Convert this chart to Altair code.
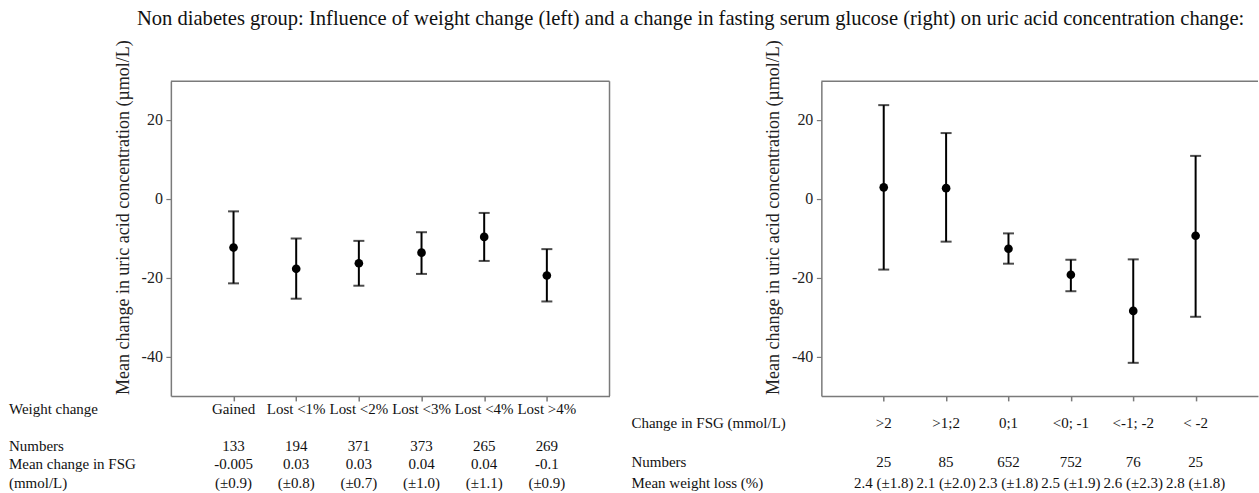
import altair as alt
import pandas as pd

# ---------------- data ----------------
title_text = ("Non diabetes group: Influence of weight change (left) and a change in "
              "fasting serum glucose (right) on uric acid concentration change:")
y_title = "Mean change in uric acid concentration (\u00b5mol/L)"

weight_cats = ["Gained", "Lost <1%", "Lost <2%", "Lost <3%", "Lost <4%", "Lost >4%"]
left_mean = [-12.3, -17.7, -16.3, -13.6, -9.6, -19.4]
left_lo = [-21.4, -25.3, -22.0, -19.0, -15.7, -26.0]
left_hi = [-3.1, -10.0, -10.6, -8.4, -3.5, -12.7]
left_n = ["133", "194", "371", "373", "265", "269"]
left_fsg = ["-0.005", "0.03", "0.03", "0.04", "0.04", "-0.1"]
left_fsg_sd = ["(\u00b10.9)", "(\u00b10.8)", "(\u00b10.7)", "(\u00b11.0)", "(\u00b11.1)", "(\u00b10.9)"]
left_row_labels = ["Weight change", "Numbers", "Mean change in FSG", "(mmol/L)"]

fsg_cats = [">2", ">1;2", "0;1", "<0; -1", "<-1; -2", "< -2"]
right_mean = [3.0, 2.8, -12.6, -19.2, -28.4, -9.3]
right_lo = [-17.9, -10.8, -16.4, -23.4, -41.6, -29.9]
right_hi = [23.9, 16.8, -8.7, -15.4, -15.3, 11.0]
right_n = ["25", "85", "652", "752", "76", "25"]
right_wl = ["2.4 (\u00b11.8)", "2.1 (\u00b12.0)", "2.3 (\u00b11.8)", "2.5 (\u00b11.9)",
            "2.6 (\u00b12.3)", "2.8 (\u00b11.8)"]
right_row_labels = ["Change in FSG (mmol/L)", "Numbers", "Mean weight loss (%)"]

y_domain = [-50, 30]
y_ticks = [-40, -20, 0, 20]
y_tick_labels = ["-40", "-20", "0", "20"]

# ---------------- style ----------------
FONT = "Liberation Serif"
FRAME = "#7a7a7a"
H = 315
LW = 439
RW = 437


def panel(cats, mean, lo, hi, width, text_cols, row_labels, label_x, title=None):
    df = pd.DataFrame({"cat": cats, "mean": mean, "lo": lo, "hi": hi})
    for name, vals, _ in text_cols:
        df[name] = vals
    x_enc = alt.X("cat:N", sort=cats,
                  scale=alt.Scale(type="point", padding=1),
                  axis=alt.Axis(labels=False, title=None, grid=False, tickSize=5,
                                tickColor=FRAME, tickWidth=1.5,
                                domainColor=FRAME, domainWidth=1.5))
    y_axis = alt.Axis(values=y_ticks, grid=False, title=None, labels=False, tickSize=5,
                      tickColor=FRAME, tickWidth=1.2, domainColor=FRAME, domainWidth=1.5)
    yscale = alt.Scale(domain=y_domain, nice=False, zero=False)
    base = alt.Chart(df)
    rules = base.mark_rule(color="black", strokeWidth=2).encode(
        x=x_enc, y=alt.Y("lo:Q", scale=yscale, axis=y_axis), y2="hi:Q")
    cap_lo = base.mark_tick(color="black", thickness=2, size=11).encode(
        x=x_enc, y=alt.Y("lo:Q", scale=yscale, axis=y_axis))
    cap_hi = base.mark_tick(color="black", thickness=2, size=11).encode(
        x=x_enc, y=alt.Y("hi:Q", scale=yscale, axis=y_axis))
    pts = base.mark_point(filled=True, color="black", opacity=1, size=75).encode(
        x=x_enc, y=alt.Y("mean:Q", scale=yscale, axis=y_axis))
    layers = [rules, cap_lo, cap_hi, pts]
    tick_df = pd.DataFrame({"v": y_ticks, "lab": y_tick_labels})
    layers.append(alt.Chart(tick_df).mark_text(
        font=FONT, fontSize=16, color="#222222", align="right", baseline="middle").encode(
        x=alt.value(-8), y=alt.Y("v:Q", scale=yscale, axis=y_axis), text="lab:N"))
    layers.append(alt.Chart(pd.DataFrame({"label": [y_title]})).mark_text(
        font=FONT, fontSize=18, color="#222222", align="left", baseline="middle",
        angle=270).encode(x=alt.value(-47), y=alt.value(H - 1), text="label:N"))
    for name, vals, ypos in text_cols:
        layers.append(base.mark_text(font=FONT, fontSize=15, color="#111111",
                                     baseline="middle", align="center").encode(
            x=x_enc, y=alt.value(ypos), text=f"{name}:N"))
    one = pd.DataFrame({"k": [0]})
    for lab, ypos in row_labels:
        layers.append(alt.Chart(pd.DataFrame({"label": [lab]})).mark_text(
            font=FONT, fontSize=15, color="#111111", baseline="middle", align="left").encode(
            x=alt.value(label_x), y=alt.value(ypos), text="label:N"))
    layers.append(alt.Chart(one).mark_rule(color=FRAME, strokeWidth=1.5).encode(
        x=alt.value(0), x2=alt.value(width), y=alt.value(0)))
    if title is not None:
        layers.append(alt.Chart(one).mark_rule(color=FRAME, strokeWidth=1.5).encode(
            x=alt.value(width), y=alt.value(0), y2=alt.value(H)))
        layers.append(alt.Chart(pd.DataFrame({"label": [title]})).mark_text(
            font=FONT, fontSize=20.6, color="#111111", baseline="middle", align="left").encode(
            x=alt.value(-34), y=alt.value(-62), text="label:N"))
    return alt.layer(*layers).properties(width=width, height=H)


left = panel(
    weight_cats, left_mean, left_lo, left_hi, LW,
    [("catlabel", weight_cats, 328), ("n", left_n, 365),
     ("fsg", left_fsg, 383), ("fsgsd", left_fsg_sd, 402)],
    list(zip(left_row_labels, [328, 365, 383, 402])), -162, title=title_text)

right = panel(
    fsg_cats, right_mean, right_lo, right_hi, RW,
    [("catlabel", fsg_cats, 342), ("n", right_n, 381), ("wl", right_wl, 402)],
    list(zip(right_row_labels, [342, 381, 402])), -190)

chart = alt.hconcat(left, right, spacing=212, bounds="flush").properties(
    padding={"left": 9, "top": 9, "right": 0, "bottom": 0},
    background="white",
).configure(font=FONT).configure_view(stroke=None).resolve_scale(
    x="independent", y="independent")

chart.save("out.html", embed_options={"renderer": "svg", "actions": False})
